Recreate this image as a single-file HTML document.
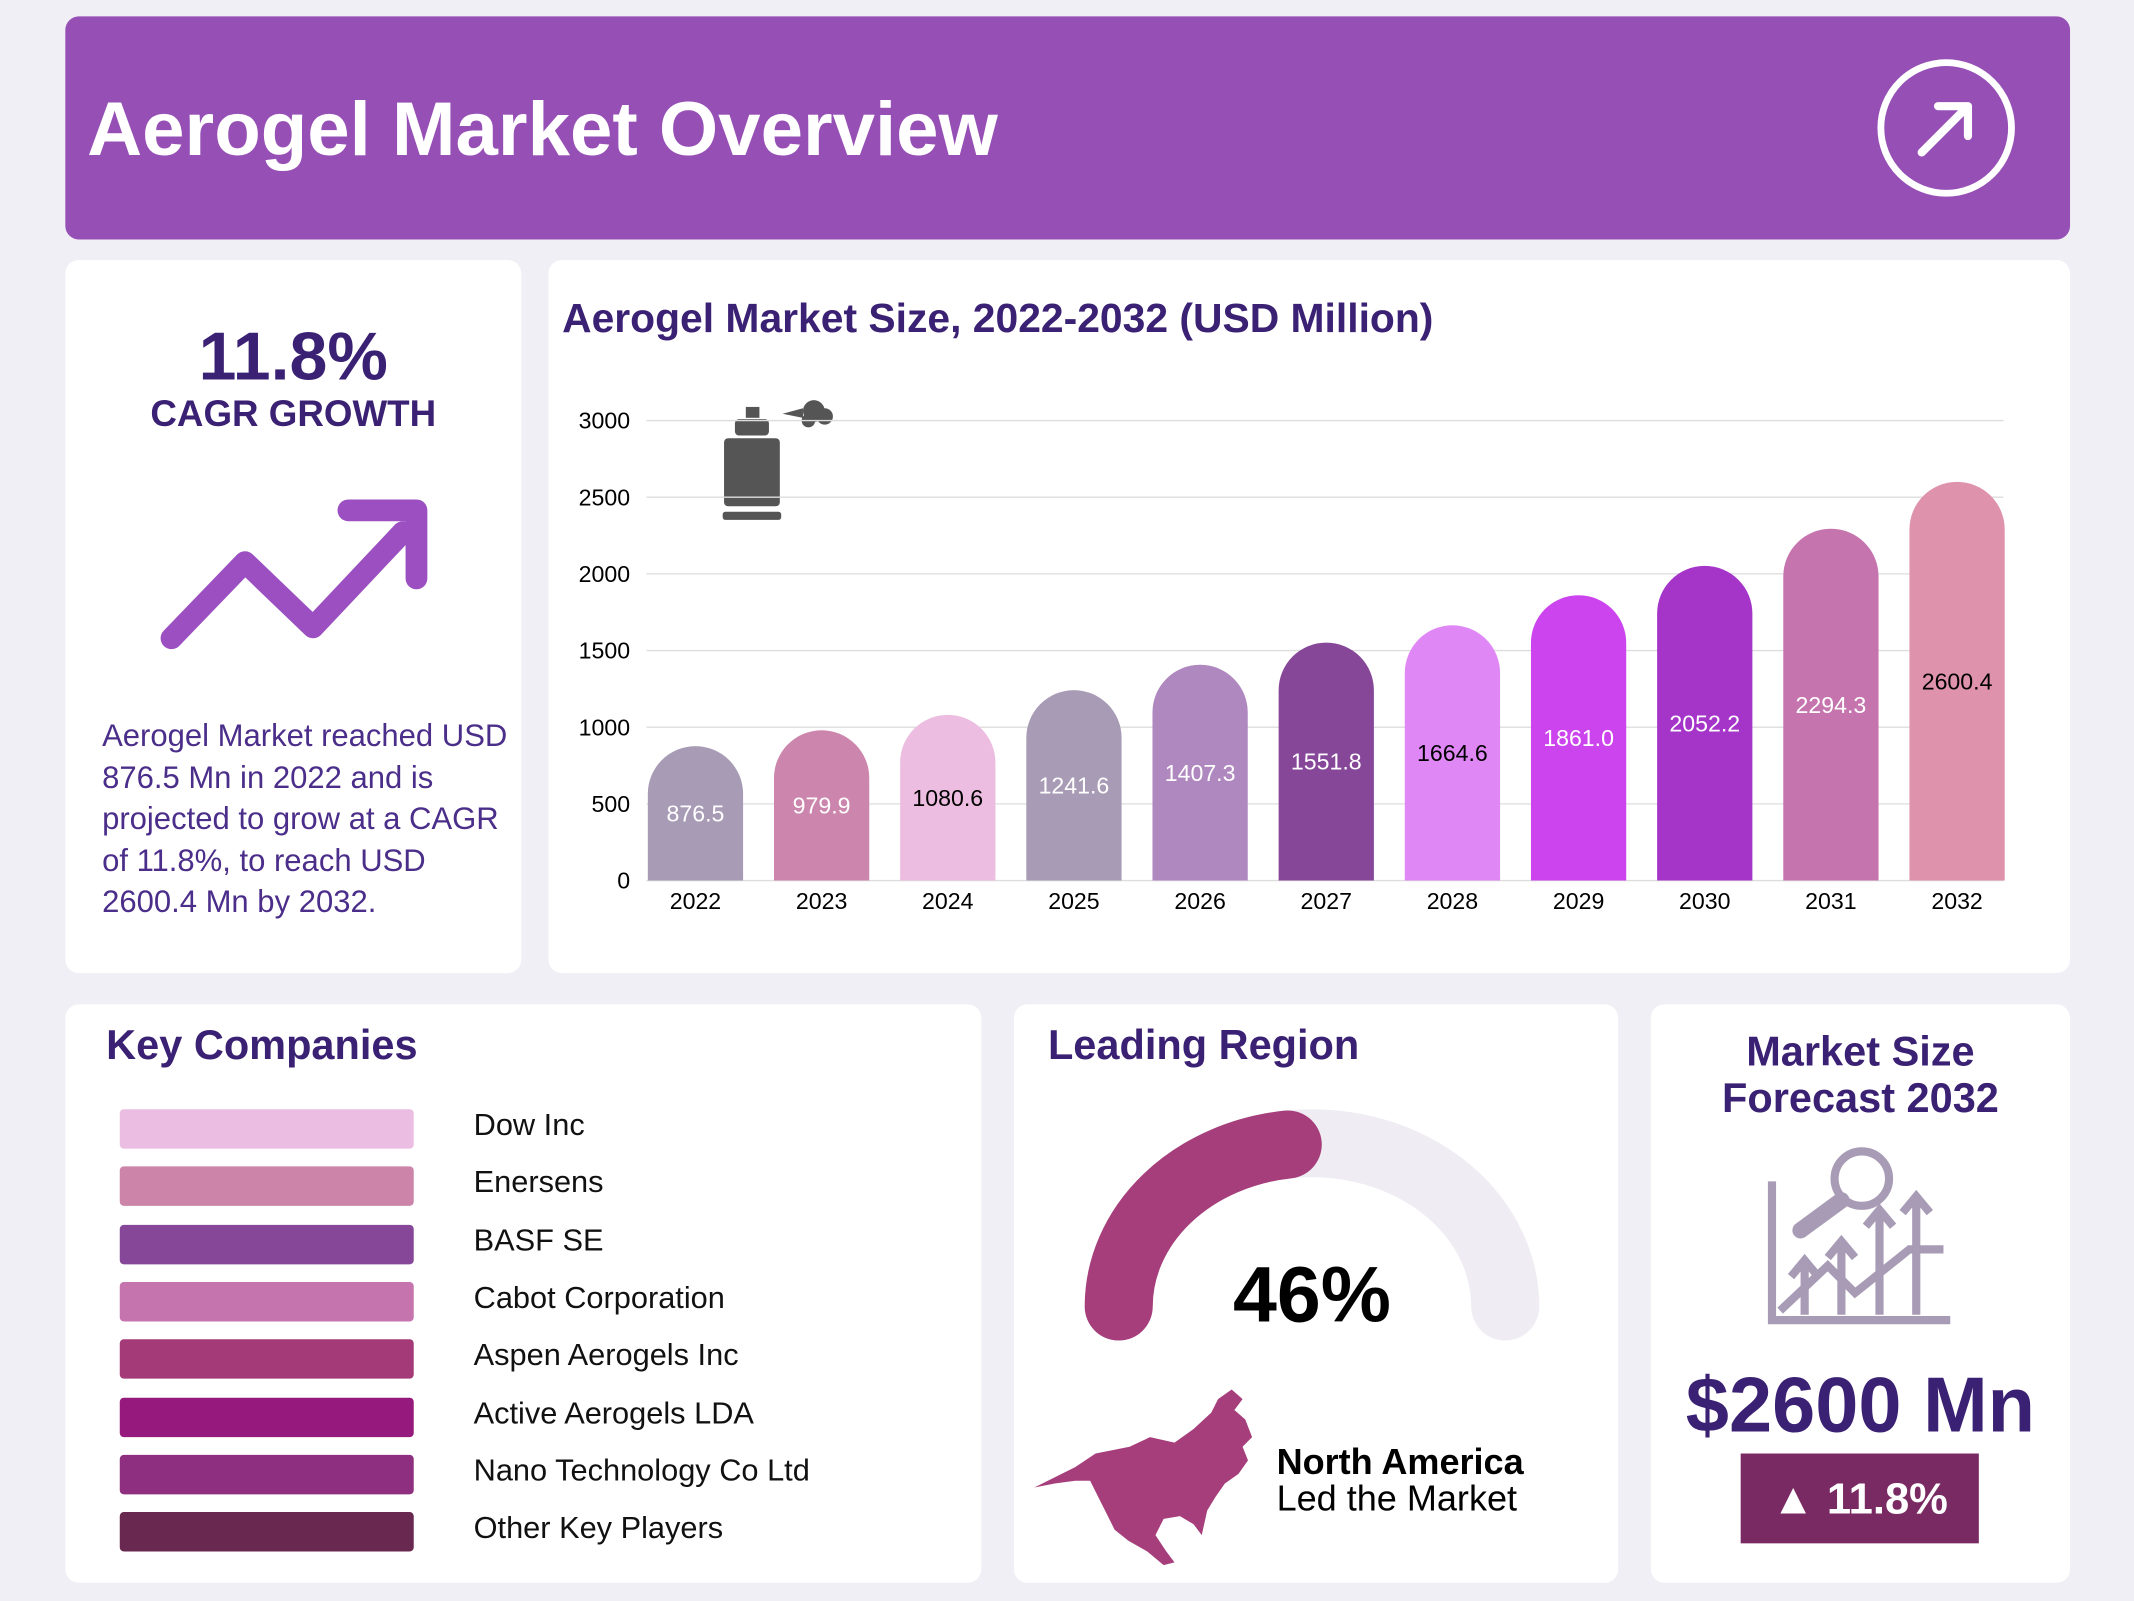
<!DOCTYPE html>
<html><head><meta charset="utf-8"><style>
html,body{margin:0;padding:0;width:2134px;height:1600px;overflow:hidden;background:#f0eff5;}
#root{position:absolute;left:0;top:0;width:1568px;height:1176px;transform:scale(1.36097);transform-origin:0 0;font-family:"Liberation Sans",sans-serif;}
.card{position:absolute;background:#fff;border-radius:10px;}
.t{position:absolute;white-space:nowrap;}
</style></head><body>
<div id="root">
 <div class="card" style="left:48px;top:12px;width:1473px;height:164px;background:#964fb5;">
  <div class="t" style="left:16px;top:50px;font-size:56px;font-weight:bold;color:#fff;">Aerogel Market Overview</div>
  <svg style="position:absolute;left:1330px;top:30px" width="104" height="104"><circle cx="52" cy="52" r="48" fill="none" stroke="#fff" stroke-width="5"/><path d="M34 70 L68 36 M46 36 H68 V58" fill="none" stroke="#fff" stroke-width="6" stroke-linecap="round" stroke-linejoin="round"/></svg>
 </div>

 <div class="card" style="left:48px;top:191px;width:335px;height:524px;">
  <div class="t" style="left:0;width:335px;text-align:center;top:42px;font-size:50px;font-weight:bold;color:#3b2173;">11.8%</div>
  <div class="t" style="left:0;width:335px;text-align:center;top:98px;font-size:27px;font-weight:bold;color:#3b2173;">CAGR GROWTH</div>
  <svg style="position:absolute;left:0;top:160px" width="335" height="140"><path d="M78 118 L132 62 L182 110 L248 40" fill="none" stroke="#9b4fc0" stroke-width="16" stroke-linecap="round" stroke-linejoin="round"/><path d="M208 24 H258 V74" fill="none" stroke="#9b4fc0" stroke-width="16" stroke-linecap="round" stroke-linejoin="round"/></svg>
  <div class="t" style="left:27px;top:334px;font-size:22.8px;line-height:30.5px;color:#4b2e8a;">Aerogel Market reached USD<br>876.5 Mn in 2022 and is<br>projected to grow at a CAGR<br>of 11.8%, to reach USD<br>2600.4 Mn by 2032.</div>
 </div>

 <div class="card" style="left:403px;top:191px;width:1118px;height:524px;">
  <div class="t" style="left:10px;top:27px;font-size:30px;font-weight:bold;color:#3b2173;">Aerogel Market Size, 2022-2032 (USD Million)</div>
 </div>
 <svg id="chart" style="position:absolute;left:0;top:0" width="1568" height="720">
  <g fill="#555">
   <rect x="548" y="299" width="10" height="8"/><rect x="540" y="308" width="25" height="12" rx="3"/><rect x="532" y="322" width="41" height="50" rx="3"/><rect x="531" y="376" width="43" height="6" rx="2"/><path d="M575 304 L590 300 L590 307Z"/><circle cx="598" cy="302" r="8"/><circle cx="606" cy="306" r="6"/><circle cx="594" cy="309" r="5"/>
  </g>
 </svg>

 <div class="card" style="left:48px;top:738px;width:673px;height:425px;">
  <div class="t" style="left:30px;top:13px;font-size:30.5px;font-weight:bold;color:#3b2173;">Key Companies</div>
  <div id="legend"></div>
 </div>

 <div class="card" style="left:745px;top:738px;width:444px;height:425px;">
  <div class="t" style="left:25px;top:13px;font-size:30.5px;font-weight:bold;color:#3b2173;">Leading Region</div>
  <svg style="position:absolute;left:0;top:0" width="444" height="425">
   <path d="M77 222 A142 120 0 0 1 361 222" fill="none" stroke="#efedf3" stroke-width="50" stroke-linecap="round"/>
   <path id="gfill" d="" fill="none" stroke="#a53e7b" stroke-width="50" stroke-linecap="round"/>
   <text x="219" y="233" text-anchor="middle" font-size="58" font-weight="bold" font-family="Liberation Sans,sans-serif" fill="#000">46%</text>
   <path d="M15 355 L45 340 L60 330 L85 325 L100 318 L118 322 L132 312 L145 300 L150 290 L160 283 L168 290 L162 298 L170 305 L175 318 L168 325 L172 335 L165 345 L155 352 L148 362 L142 372 L138 390 L132 382 L122 376 L110 378 L104 390 L112 402 L118 410 L110 412 L98 402 L84 394 L74 386 L68 374 L62 362 L56 350 L45 350 L30 352 Z" fill="#a53e7b"/>
   <text x="193" y="345" font-size="26.5" font-weight="bold" font-family="Liberation Sans,sans-serif">North America</text>
   <text x="193" y="372" font-size="26.5" font-family="Liberation Sans,sans-serif">Led the Market</text>
  </svg>
 </div>

 <div class="card" style="left:1213px;top:738px;width:308px;height:425px;">
  <div class="t" style="left:0;width:308px;text-align:center;top:18px;font-size:30.5px;line-height:34px;font-weight:bold;color:#3b2173;">Market Size<br>Forecast 2032</div>
  <svg style="position:absolute;left:80px;top:100px" width="150" height="140" fill="none" stroke="#a89bb5" stroke-width="6">
   <path d="M9 30 V132 H140"/><path d="M15 125 L50 92 L70 112 L110 80 L135 80"/>
   <circle cx="75" cy="28" r="20"/><path d="M60 44 L30 66" stroke-width="12" stroke-linecap="round"/>
   <path d="M33 128 V92 M23 100 L33 88 L43 100 M60 128 V78 M50 86 L60 74 L70 86 M88 128 V55 M78 63 L88 51 L98 63 M115 128 V45 M105 53 L115 41 L125 53"/>
  </svg>
  <div class="t" style="left:0;width:308px;text-align:center;top:262px;font-size:57px;font-weight:bold;color:#3b2173;">$2600 Mn</div>
  <div style="position:absolute;left:66px;top:330px;width:175px;height:66px;background:#7a2a63;color:#fff;font-size:32px;font-weight:bold;text-align:center;line-height:66px;">▲ 11.8%</div>
 </div>
</div>
<script>
const years=["2022","2023","2024","2025","2026","2027","2028","2029","2030","2031","2032"];
const values=[876.5,979.9,1080.6,1241.6,1407.3,1551.8,1664.6,1861.0,2052.2,2294.3,2600.4];
const yTicks=[0,500,1000,1500,2000,2500,3000];
const companies=["Dow Inc","Enersens","BASF SE","Cabot Corporation","Aspen Aerogels Inc","Active Aerogels LDA","Nano Technology Co Ltd","Other Key Players"];
const regionShare=[46];
const barColors=["#a89bb5","#cc85ac","#ecbde0","#a89bb5","#b088c0","#874799","#df88f5","#cc44ee","#a535c8","#c574ae","#de92ac"];
const labelColors=["#fff","#fff","#000","#fff","#fff","#fff","#000","#fff","#fff","#fff","#000"];
const compColors=["#ecbde3","#cc85a8","#874799","#c574ad","#a53a78","#961a7e","#8e2f7f","#68284f"];
const NS="http://www.w3.org/2000/svg";
const svg=document.getElementById('chart');
const y=v=>647-v*(338/3000);
const x=i=>511+i*92.7;
function mk(t,a){const e=document.createElementNS(NS,t);for(const k in a)e.setAttribute(k,a[k]);svg.appendChild(e);return e;}
yTicks.forEach(v=>{
 const l=mk('line',{x1:475,x2:1472,y1:y(v),y2:y(v),stroke:'#dddddd','stroke-width':1});
 
 
 const t=mk('text',{x:463,y:y(v)+6,'text-anchor':'end','font-size':17,'font-family':'Liberation Sans,sans-serif'});t.textContent=v;
 
 
});
years.forEach((yr,i)=>{
 const w=70,x0=x(i)-w/2,top=y(values[i]),b=647,r=35;
 const p=mk('path',{d:`M${x0} ${b} V${top+r} A${r} ${r} 0 0 1 ${x0+w} ${top+r} V${b} Z`,fill:barColors[i]});
 
 
 const vl=mk('text',{x:x(i),y:(top+b)/2+6,'text-anchor':'middle','font-size':17,fill:labelColors[i],'font-family':'Liberation Sans,sans-serif'});vl.textContent=values[i].toFixed(1);
 
 
 const xl=mk('text',{x:x(i),y:668,'text-anchor':'middle','font-size':17,'font-family':'Liberation Sans,sans-serif'});xl.textContent=yr;
 
 
});
const lg=document.getElementById('legend');
companies.forEach((c,i)=>{
 const s=document.createElement('div');
 
 
 s.style.cssText=`position:absolute;left:40px;top:${77+i*42.3}px;width:216px;height:29px;border-radius:3px;background:${compColors[i]}`;
 lg.appendChild(s);
 const t=document.createElement('div');
 
 
 t.className='t';t.style.cssText=`left:300px;top:${76+i*42.3}px;font-size:22.6px;color:#111`;t.textContent=c;
 lg.appendChild(t);
});
const cx=219,cy=222,RX=142,RY=120,ang=Math.PI*(1-regionShare[0]/100);
document.getElementById('gfill').setAttribute('d',`M${cx-RX} ${cy} A${RX} ${RY} 0 0 1 ${cx+RX*Math.cos(ang)} ${cy-RY*Math.sin(ang)}`);
</script>
</body></html>
